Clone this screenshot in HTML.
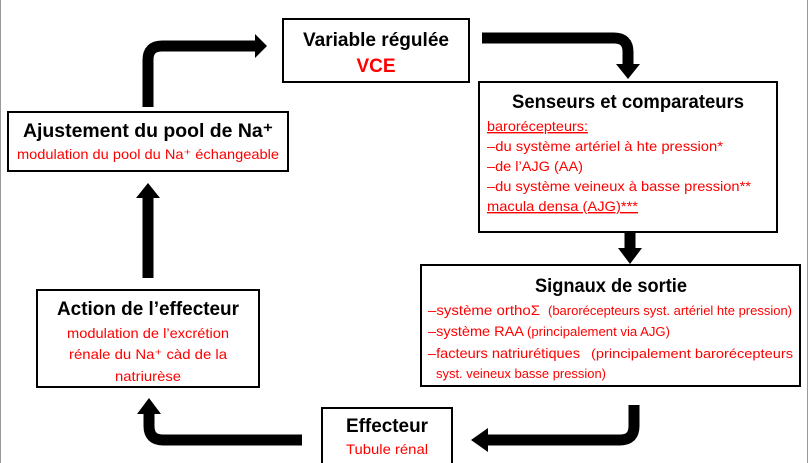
<!DOCTYPE html>
<html><head><meta charset="utf-8"><style>
html,body{margin:0;padding:0;background:#fff;width:808px;height:463px;overflow:hidden}
svg{display:block}
text{font-family:"Liberation Sans",Arial,sans-serif}
.t{font-weight:bold;font-size:19px;fill:#000}
.r{font-size:14px;fill:#ff0000}
.s{font-size:13px;fill:#ff0000}
</style></head><body>
<svg width="808" height="463" viewBox="0 0 808 463" xmlns="http://www.w3.org/2000/svg">
<rect x="0.5" y="-1" width="807" height="470" fill="none" stroke="#999" stroke-width="1"/>
<g fill="none" stroke="#000" stroke-width="2">
<rect x="283" y="19" width="186" height="63"/>
<rect x="479" y="82" width="298" height="150"/>
<rect x="8" y="112" width="280" height="59"/>
<rect x="37" y="290" width="222" height="97"/>
<rect x="421" y="265" width="379" height="121"/>
<rect x="322" y="408" width="130" height="70"/>
</g>
<g fill="none" stroke="#000" stroke-width="11">
<path d="M148 107 V60 Q148 46 162 46 H257"/>
<path d="M482 38 H614 Q628 38 628 52 V66"/>
<path d="M630 233 V250"/>
<path d="M634 405 V426 Q634 440 620 440 H486"/>
<path d="M302 440 H163 Q149 440 149 426 V412"/>
<path d="M148 278 V196"/>
</g>
<g fill="#000">
<polygon points="255,34 267,46 255,58"/>
<polygon points="616,64 640,64 628,79"/>
<polygon points="618,248 642,248 630,264"/>
<polygon points="488,428 488,452 471,440"/>
<polygon points="137,414 161,414 149,398"/>
<polygon points="136,198 160,198 148,183"/>
</g>
<text class="t" x="376" y="46" text-anchor="middle" textLength="146" lengthAdjust="spacingAndGlyphs">Variable régulée</text>
<text x="376" y="72" text-anchor="middle" font-weight="bold" font-size="19" fill="#ff0000">VCE</text>
<text class="t" x="628" y="108" text-anchor="middle" textLength="232" lengthAdjust="spacingAndGlyphs">Senseurs et comparateurs</text>
<text class="r" x="487" y="131" textLength="101" lengthAdjust="spacingAndGlyphs" text-decoration="underline">barorécepteurs:</text>
<text class="r" x="487" y="151" textLength="236" lengthAdjust="spacingAndGlyphs">–du système artériel à hte pression*</text>
<text class="r" x="487" y="171" textLength="96" lengthAdjust="spacingAndGlyphs">–de l’AJG (AA)</text>
<text class="r" x="487" y="191" textLength="264" lengthAdjust="spacingAndGlyphs">–du système veineux à basse pression**</text>
<text class="r" x="487" y="211" textLength="151" lengthAdjust="spacingAndGlyphs" text-decoration="underline">macula densa (AJG)***</text>
<text class="t" x="148" y="137" text-anchor="middle" textLength="250" lengthAdjust="spacingAndGlyphs">Ajustement du pool de Na⁺</text>
<text class="r" x="148" y="159" text-anchor="middle" textLength="262" lengthAdjust="spacingAndGlyphs">modulation du pool du Na⁺ échangeable</text>
<text class="t" x="148" y="315" text-anchor="middle" textLength="182" lengthAdjust="spacingAndGlyphs">Action de l’effecteur</text>
<text class="r" x="148" y="338" text-anchor="middle" textLength="162" lengthAdjust="spacingAndGlyphs">modulation de l’excrétion</text>
<text class="r" x="148" y="359" text-anchor="middle" textLength="158" lengthAdjust="spacingAndGlyphs">rénale du Na⁺ càd de la</text>
<text class="r" x="148" y="381" text-anchor="middle" textLength="66" lengthAdjust="spacingAndGlyphs">natriurèse</text>
<text class="t" x="611" y="292" text-anchor="middle" textLength="152" lengthAdjust="spacingAndGlyphs">Signaux de sortie</text>
<text class="r" x="428" y="315" textLength="112" lengthAdjust="spacingAndGlyphs">–système orthoΣ</text>
<text class="s" x="548" y="315" textLength="244" lengthAdjust="spacingAndGlyphs">(barorécepteurs syst. artériel hte pression)</text>
<text class="r" x="428" y="336" textLength="96" lengthAdjust="spacingAndGlyphs">–système RAA</text>
<text class="s" x="527" y="336" textLength="143" lengthAdjust="spacingAndGlyphs">(principalement via AJG)</text>
<text class="r" x="428" y="358" textLength="152" lengthAdjust="spacingAndGlyphs">–facteurs   natriurétiques</text>
<text class="s" x="591" y="358" textLength="202" lengthAdjust="spacingAndGlyphs">(principalement   barorécepteurs</text>
<text class="s" x="436" y="378" textLength="170" lengthAdjust="spacingAndGlyphs">syst. veineux basse pression)</text>
<text class="t" x="387" y="432" text-anchor="middle" textLength="82" lengthAdjust="spacingAndGlyphs">Effecteur</text>
<text class="r" x="387" y="454" text-anchor="middle" textLength="82" lengthAdjust="spacingAndGlyphs">Tubule rénal</text>
</svg>
</body></html>
